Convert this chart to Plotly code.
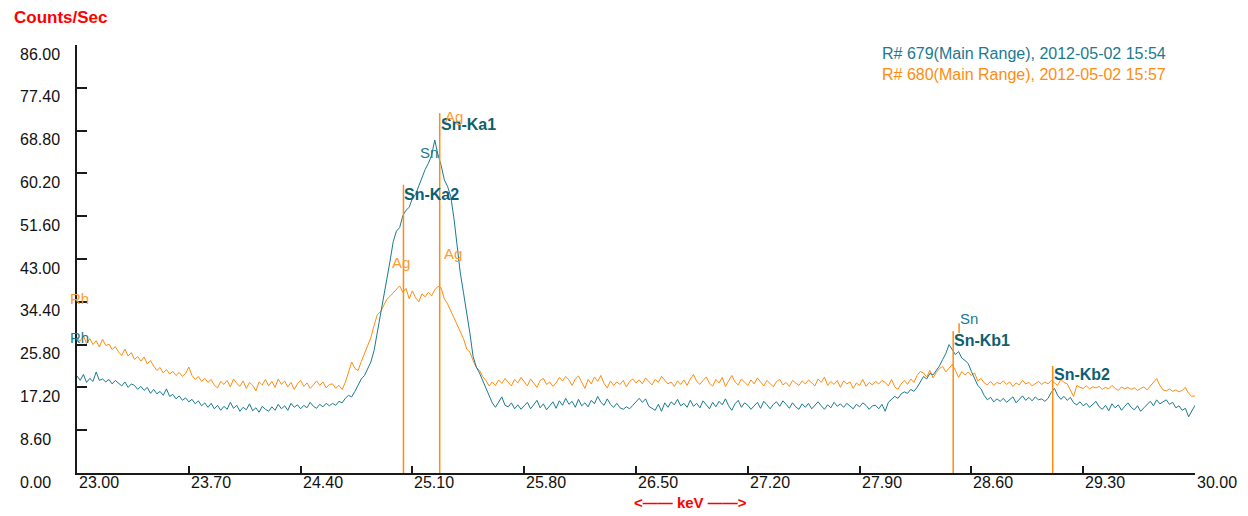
import plotly.graph_objects as go

# ---------------- data ----------------
energy_start = 23.0
energy_step = 0.02

counts_679 = [
    19.5, 18.6, 19.8, 18.2, 19.0, 18.4, 20.3, 18.6, 18.9, 18.3,
    18.8, 17.9, 18.6, 18.0, 17.5, 18.3, 17.2, 17.9, 17.6, 16.8,
    17.4, 16.6, 17.2, 16.0, 16.8, 15.9, 16.4, 15.6, 16.9, 15.4,
    15.8, 14.9, 15.5, 14.6, 15.1, 14.3, 14.8, 13.9, 14.5, 13.5,
    14.1, 13.2, 14.0, 12.9, 13.6, 12.6, 13.4, 12.8, 14.2, 13.0,
    13.6, 12.4, 13.2, 12.7, 13.9, 12.5, 13.1, 12.2, 13.4, 12.8,
    12.4, 13.3, 12.6, 13.8, 12.9, 13.5, 12.6, 14.0, 13.2, 13.7,
    12.9, 13.6, 13.1, 14.2, 13.4, 13.0, 13.8, 13.3, 14.0, 13.5,
    14.0, 13.6, 14.4, 14.1, 15.0, 15.6, 15.3, 16.4, 17.8, 18.9,
    19.6, 20.8, 22.3, 24.6, 28.4, 32.0, 35.3, 39.0, 42.6, 46.5,
    48.6, 49.3, 51.7, 52.8, 53.4, 55.2, 56.0, 57.8, 59.6, 61.0,
    62.2, 63.8, 66.9, 64.0, 61.8, 58.9, 57.6, 55.6, 51.2, 45.6,
    40.2, 36.2, 32.5, 28.1, 23.4, 21.3, 20.1, 18.6, 17.0, 15.6,
    14.1, 13.2, 14.4, 15.3, 13.6, 13.3, 14.1, 12.9, 13.7, 12.8,
    13.5, 14.2, 12.9, 13.8, 14.6, 13.1, 13.9, 12.7, 13.4, 14.3,
    13.0, 14.5, 13.6, 15.0, 13.8, 14.4, 13.2, 14.8, 13.5, 14.1,
    13.3, 14.6, 13.9, 15.4, 14.2, 13.6, 14.9, 13.8, 13.2, 14.0,
    13.1, 12.8, 13.3, 12.9, 13.6, 14.4, 15.0, 14.2, 14.9, 13.4,
    13.0, 12.6, 13.8, 12.4, 14.1, 13.2, 14.3, 13.7, 14.8, 13.5,
    14.0, 13.2, 14.6, 13.4, 14.0, 13.1, 14.5, 13.6, 12.9, 14.2,
    13.3, 14.4, 13.7, 14.9, 13.5, 12.6, 13.9, 14.6, 13.2, 14.1,
    13.6, 12.8, 13.5, 14.2, 13.0, 14.4, 13.7, 12.9, 13.8, 14.3,
    13.4, 14.5, 13.8, 13.0, 14.1, 13.3, 12.8, 13.9, 13.2, 14.0,
    12.9, 13.6, 14.3, 13.5, 12.8, 13.7, 13.1, 14.2, 13.4, 13.9,
    13.2, 14.0, 13.5, 12.9, 13.8, 13.3, 14.1, 13.6, 12.8, 13.5,
    13.6, 12.9, 13.8, 12.4, 14.2, 14.9, 15.4, 15.0, 15.9, 16.3,
    16.0, 16.8, 16.4, 17.2, 18.3, 19.4, 18.9, 20.0, 19.7, 20.6,
    21.5, 22.8, 24.0, 25.8, 24.9, 23.8, 24.4, 23.1, 22.6, 22.0,
    20.4, 19.1, 17.6, 16.9, 15.6, 14.7, 15.2, 14.3, 14.9, 14.4,
    15.0, 14.2, 14.7, 15.3, 14.1, 14.8, 15.5, 14.6, 15.2, 14.5,
    15.3, 14.7, 14.9, 14.4, 15.0, 16.2, 17.0, 15.6, 14.8, 15.4,
    14.6, 15.2, 14.1, 13.7, 14.3, 13.5, 14.0, 13.2, 13.8, 14.4,
    13.3, 12.8, 13.6, 12.5, 13.9, 13.1, 13.7, 12.6, 13.4, 14.1,
    13.2, 12.7, 13.5, 12.4, 13.1, 13.8, 14.4, 13.5, 14.7, 13.9,
    14.3, 14.7, 13.8, 14.2, 13.1, 13.5, 12.6, 13.0, 11.3, 12.4,
    13.6,
]

counts_680 = [
    27.2, 26.5, 27.6, 26.0, 27.0, 25.8, 26.6, 25.3, 26.9, 25.6,
    25.9, 24.8, 25.4, 24.3, 23.6, 24.9, 23.5, 24.2, 22.8, 23.4,
    22.5, 23.3, 21.9, 22.6, 21.5, 20.6, 21.2, 20.1, 20.8, 19.9,
    20.4, 19.6, 20.2, 19.4, 20.0, 21.3, 19.6, 18.8, 19.4, 18.4,
    19.0, 18.2, 18.8, 17.6, 17.1, 18.4, 17.8, 18.6, 17.3, 18.9,
    18.0, 17.4, 18.5, 17.0, 18.2, 17.6, 16.5, 18.3, 17.7, 18.8,
    17.5, 18.4, 17.2, 18.9, 17.8, 18.5, 17.3, 18.2, 16.8, 17.9,
    18.6, 17.4, 18.1, 17.0, 17.7, 18.5, 17.6, 18.3, 17.1, 17.8,
    17.9, 17.0, 17.6, 16.8, 18.2, 20.5, 22.3, 21.0, 20.6, 22.4,
    24.0, 25.3, 27.2, 29.6, 31.8, 32.4, 33.6, 34.9, 35.5, 36.2,
    36.8, 37.6, 36.3, 37.1, 35.0, 36.6, 35.2, 34.4, 36.0, 35.4,
    36.3, 35.6, 36.8, 37.5, 37.2, 35.0, 34.0, 32.6, 31.4, 29.9,
    28.6, 27.0, 24.9, 24.3, 22.6, 21.2, 20.6, 19.4, 18.6, 17.5,
    18.3, 17.6, 18.7, 18.0, 19.0, 18.2, 17.5, 18.8, 18.1, 19.2,
    18.4, 17.5, 18.9, 18.0, 17.2, 18.6, 19.0, 17.8, 18.3, 17.4,
    18.1, 19.2, 18.5, 19.4, 18.7, 17.6, 18.9, 19.5, 18.2, 17.0,
    18.8, 17.9, 19.3, 18.4, 19.6, 18.0, 17.1, 18.5, 17.6, 18.3,
    17.8, 18.6, 17.3, 18.4, 18.9, 18.1, 18.7, 17.9, 19.1, 18.3,
    17.7, 18.8, 18.2, 19.4, 18.6, 17.9, 18.3, 17.4, 18.5, 17.8,
    18.7, 17.6, 18.9, 19.8, 18.4, 17.8, 18.6, 19.3, 18.0, 17.5,
    18.8, 18.1, 19.2, 17.4, 18.5, 19.6, 18.3, 17.7, 18.9, 18.2,
    17.6, 18.7, 17.9, 19.1, 18.3, 17.5, 18.6, 18.0, 17.3, 18.4,
    18.8, 17.7, 18.2, 17.4, 18.6, 18.1, 17.6, 18.5, 17.9, 18.7,
    18.0, 17.5, 18.9, 18.2, 19.3, 17.6, 18.4, 17.8, 18.6, 17.2,
    18.5, 17.9, 18.3, 17.0, 18.1, 17.6, 18.8, 17.4, 18.2, 17.7,
    18.4, 17.9, 18.6, 18.2, 17.5, 18.8, 17.3, 16.8, 17.9, 18.6,
    17.8, 18.9, 18.2, 19.6, 20.4, 20.1, 19.3, 20.6, 19.1, 20.2,
    21.0, 21.4, 20.3, 21.1, 21.8, 20.6, 19.2, 20.4, 19.7, 20.3,
    19.6, 20.1, 18.5, 19.0, 18.1, 17.7, 18.4, 17.6, 18.2, 17.9,
    18.5, 17.8, 18.3, 17.4, 18.1, 17.7, 18.6, 17.9, 18.2, 17.5,
    18.0, 18.4, 17.8, 18.3, 17.9, 18.6, 18.1, 17.6, 18.8, 18.2,
    17.9, 16.8, 15.4, 17.6, 17.2, 17.0, 17.5, 16.9, 17.3, 17.1,
    17.4, 16.8, 17.2, 16.9, 17.6, 17.0, 16.6, 17.3, 16.9, 17.2,
    16.8, 17.1, 16.6, 17.0, 17.3, 16.7, 17.4, 18.1, 19.0, 17.6,
    16.7, 16.5, 16.9, 16.4, 16.7, 16.3, 16.6, 17.2, 16.0, 15.4,
    15.5,
]

energy = [round(energy_start + energy_step * i, 2) for i in range(len(counts_679))]

series_names = ["R# 679(Main Range), 2012-05-02 15:54",
                "R# 680(Main Range), 2012-05-02 15:57"]

# line markers (element lines)
marker_names = ["Sn-Ka2", "Sn-Ka1", "Sn-Kb1", "Sn-Kb2"]
marker_energy = [25.044, 25.271, 28.486, 29.109]
marker_height = [57.9, 72.3, 28.5, 21.5]

# small tag tick under the "Sn" label near Kb1
tag_tick_energy = [28.523]
tag_tick_low = [28.1]
tag_tick_high = [30.1]

# element tags (text, energy, counts)
tag_text_679 = ["Sn", "Sn"]
tag_x_679 = [25.135, 28.516]
tag_y_679 = [64.5, 31.1]
tag_text_680 = ["Ag", "Ag", "Ag"]
tag_x_680 = [25.29, 24.96, 25.285]
tag_y_680 = [71.7, 42.2, 44.2]
rh_y = [35.0, 27.2]   # orange, teal

x_tick_vals = [23.0, 23.7, 24.4, 25.1, 25.8, 26.5, 27.2, 27.9, 28.6, 29.3, 30.0]
x_tick_text = ["23.00", "23.70", "24.40", "25.10", "25.80", "26.50", "27.20",
               "27.90", "28.60", "29.30", "30.00"]
y_tick_vals = [0, 8.6, 17.2, 25.8, 34.4, 43.0, 51.6, 60.2, 68.8, 77.4, 86.0]
y_tick_text = ["0.00", "8.60", "17.20", "25.80", "34.40", "43.00", "51.60",
               "60.20", "68.80", "77.40", "86.00"]

# ---------------- style ----------------
TEAL = "#1b7a8f"
TEAL_DARK = "#0d5f72"
ORANGE = "#ff8c0f"
ORANGE_TXT = "#ff9a2e"
FONT = "Liberation Sans, Arial, sans-serif"

fig = go.Figure()

fig.add_trace(go.Scatter(x=energy, y=counts_680, mode="lines",
                         line=dict(color=ORANGE, width=1), name=series_names[1],
                         hoverinfo="skip"))
fig.add_trace(go.Scatter(x=energy, y=counts_679, mode="lines",
                         line=dict(color=TEAL, width=1), name=series_names[0],
                         hoverinfo="skip"))

mx, my = [], []
for e, h in zip(marker_energy, marker_height):
    mx += [e, e, None]
    my += [0, h, None]
for e, lo, hi in zip(tag_tick_energy, tag_tick_low, tag_tick_high):
    mx += [e, e, None]
    my += [lo, hi, None]
fig.add_trace(go.Scatter(x=mx, y=my, mode="lines", line=dict(color=ORANGE, width=1.5),
                         hoverinfo="skip", cliponaxis=False))

annotations = []
# peak labels
for n, e, h in zip(marker_names, marker_energy, marker_height):
    yoff = {"Sn-Ka2": -2.0, "Sn-Ka1": -2.2, "Sn-Kb1": -1.8, "Sn-Kb2": -1.8}[n]
    annotations.append(dict(x=e, y=h + yoff, xref="x", yref="y", text="<b>%s</b>" % n,
                            showarrow=False, xanchor="left", yanchor="middle",
                            xshift=-1, font=dict(family=FONT, size=16, color=TEAL_DARK)))
for t, x, y in zip(tag_text_680, tag_x_680, tag_y_680):
    annotations.append(dict(x=x, y=y, xref="x", yref="y", text=t, showarrow=False,
                            xanchor="left", yanchor="middle",
                            font=dict(family=FONT, size=15, color=ORANGE_TXT)))
for t, x, y in zip(tag_text_679, tag_x_679, tag_y_679):
    annotations.append(dict(x=x, y=y, xref="x", yref="y", text=t, showarrow=False,
                            xanchor="left", yanchor="middle",
                            font=dict(family=FONT, size=15, color=TEAL)))
for y, c in zip(rh_y, [ORANGE_TXT, TEAL]):
    annotations.append(dict(x=-0.008, y=y, xref="paper", yref="y", text="Rh",
                            showarrow=False, xanchor="left", yanchor="middle",
                            font=dict(family=FONT, size=15, color=c)))

# axis tick labels (left aligned like the original)
for v, t in zip(y_tick_vals, y_tick_text):
    annotations.append(dict(x=-0.0528, y=v, xref="paper", yref="y", text=t,
                            showarrow=False, xanchor="left", yanchor="middle", yshift=-9,
                            font=dict(family=FONT, size=16, color="#111111")))
for v, t in zip(x_tick_vals, x_tick_text):
    annotations.append(dict(x=v, y=0, xref="x", yref="paper", text=t,
                            showarrow=False, xanchor="left", yanchor="middle", yshift=-9,
                            font=dict(family=FONT, size=16, color="#111111")))

# legend text
annotations.append(dict(x=0.7182, y=0.979, xref="paper", yref="paper", text=series_names[0],
                        showarrow=False, xanchor="left", yanchor="middle",
                        font=dict(family=FONT, size=16, color=TEAL)))
annotations.append(dict(x=0.7182, y=0.932, xref="paper", yref="paper", text=series_names[1],
                        showarrow=False, xanchor="left", yanchor="middle",
                        font=dict(family=FONT, size=16, color=ORANGE)))
# axis titles
annotations.append(dict(x=-0.0581, y=1.0654, xref="paper", yref="paper",
                        text="<b>Counts/Sec</b>", showarrow=False, xanchor="left",
                        yanchor="middle", font=dict(family=FONT, size=17, color="#ff0000")))
annotations.append(dict(x=0.549, y=-0.070, xref="paper", yref="paper",
                        text="<b><\u2014\u2014 keV \u2014\u2014></b>", showarrow=False,
                        xanchor="center", yanchor="middle",
                        font=dict(family=FONT, size=15, color="#ff0000")))

fig.update_layout(
    width=1240, height=508,
    margin=dict(l=69, r=53, t=37, b=43),
    paper_bgcolor="white", plot_bgcolor="white",
    showlegend=False,
    annotations=annotations,
    xaxis=dict(range=[23.0, 30.0], showgrid=False, zeroline=False,
               showline=True, linecolor="#1a1a1a", linewidth=1.5,
               tickmode="array", tickvals=x_tick_vals, showticklabels=False,
               ticks="inside", ticklen=7, tickcolor="#1a1a1a", tickwidth=1.5),
    yaxis=dict(range=[0, 86.0], showgrid=False, zeroline=False,
               showline=True, linecolor="#1a1a1a", linewidth=1.5,
               tickmode="array", tickvals=y_tick_vals, showticklabels=False,
               ticks="inside", ticklen=10, tickcolor="#1a1a1a", tickwidth=1.5),
)

fig.write_html("out.html")
